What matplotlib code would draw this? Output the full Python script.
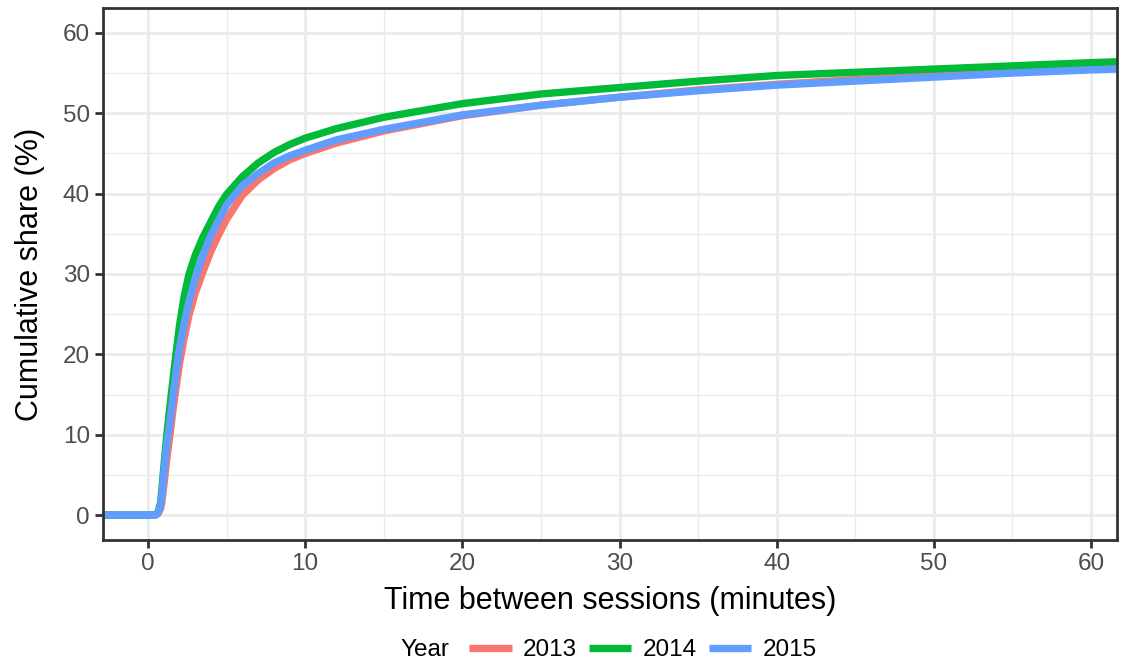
import numpy as np
import matplotlib.pyplot as plt

# Cumulative share of time between sessions, per year
minutes = [-3, 0.3, 0.5, 0.65, 0.8, 0.9, 1.0, 1.2, 1.4, 1.6, 1.8, 2.0, 2.3, 2.6, 3, 3.5, 4,
           4.5, 5, 6, 7, 8, 9, 10, 12, 15, 20, 25, 30, 35, 40, 45, 50, 55, 60, 63]
share_2013 = [0, 0, 0.02, 0.2, 0.8, 1.8, 3.5, 7, 10, 13.2, 16, 18.8, 22, 24.8, 27.6, 30.3, 32.8,
              34.9, 36.8, 39.8, 41.7, 43.1, 44.2, 45, 46.3, 47.8, 49.7, 51, 52, 52.9, 53.6, 54.2,
              54.7, 55.2, 55.6, 55.9]
share_2014 = [0, 0, 0.05, 0.4, 1.5, 3.5, 5.8, 10, 13.6, 17, 20.3, 23.5, 27.2, 29.9, 32.3, 34.6, 36.5,
              38.4, 39.9, 42.1, 43.8, 45.1, 46.1, 46.9, 48.1, 49.5, 51.2, 52.4, 53.2, 54, 54.7,
              55.1, 55.5, 55.9, 56.3, 56.5]
share_2015 = [0, 0, 0.05, 0.35, 1.2, 2.8, 5, 8.8, 11.6, 14.8, 18, 20.7, 23.8, 26.5, 29.4, 32.3, 34.8,
              36.7, 38.6, 41, 42.5, 43.8, 44.7, 45.4, 46.7, 48, 49.8, 51, 52, 52.8, 53.5, 54.0,
              54.5, 55.0, 55.4, 55.6]

years = ['2013', '2014', '2015']
colors = ['#F8766D', '#00BA38', '#619CFF']

plt.rcParams['font.family'] = ['Liberation Sans', 'DejaVu Sans']

fig = plt.figure(figsize=(11.26, 6.6), dpi=100)
ax = fig.add_axes([103/1126, 120/660, (1117-103)/1126, (540-8)/660])

for y, s, c in zip(years, [share_2013, share_2014, share_2015], colors):
    ax.plot(minutes, s, color=c, lw=5.3, label=y, solid_capstyle='butt', solid_joinstyle='round')

ax.set_xlim(-2.86, 61.65)
ax.set_ylim(-3.1, 63.1)
ax.set_xticks(np.arange(0, 61, 10))
ax.set_yticks(np.arange(0, 61, 10))
ax.set_xticks(np.arange(5, 61, 10), minor=True)
ax.set_yticks(np.arange(5, 61, 10), minor=True)
ax.grid(which='major', color='#EBEBEB', lw=2)
ax.grid(which='minor', color='#EBEBEB', lw=1)
ax.set_axisbelow(True)
for sp in ax.spines.values():
    sp.set_color('#333333')
    sp.set_linewidth(2)
ax.tick_params(which='major', length=5.5, width=2, color='#333333', labelcolor='#4D4D4D',
               labelsize=17.5, pad=4)
ax.tick_params(which='minor', length=0)

ax.set_xlabel('Time between sessions (minutes)', fontsize=22, labelpad=8)
ax.set_ylabel('Cumulative share (%)', fontsize=22, labelpad=13)

fig.text(400/1126, 1 - 650/660, 'Year', fontsize=17.5, va='center')
fig.legend(loc='center', bbox_to_anchor=(643/1126, 1 - 650/660), ncol=3, frameon=False,
           fontsize=17.5, handlelength=1.73, columnspacing=0.53, handletextpad=0.45,
           borderpad=0, borderaxespad=0)

fig.savefig('out.png', dpi=100)
